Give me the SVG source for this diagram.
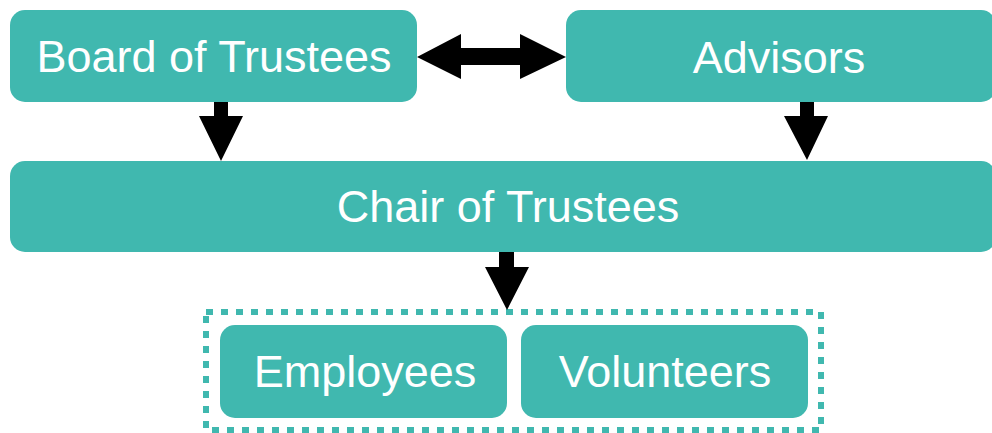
<svg xmlns="http://www.w3.org/2000/svg" width="992" height="433" viewBox="0 0 992 433">
  <style>
    .box { fill: #40b8af; }
    .lbl { font-family: "Liberation Sans", Arial, sans-serif; font-size: 45px; fill: #ffffff; text-anchor: middle; }
    .arr { fill: #000000; }
    .group { fill: none; stroke: #40b8af; stroke-width: 6; stroke-dasharray: 7 8; }
  </style>
  <rect width="992" height="433" fill="#ffffff"/>
  <g id="board">
    <rect class="box" x="10" y="10" width="407" height="92" rx="15"/>
    <text class="lbl" x="214" y="72">Board of Trustees</text>
  </g>
  <g id="advisors">
    <rect class="box" x="566" y="10" width="430" height="92" rx="15"/>
    <text class="lbl" x="779" y="73">Advisors</text>
  </g>
  <g id="chair">
    <rect class="box" x="10" y="161" width="986" height="91" rx="15"/>
    <text class="lbl" x="508" y="222">Chair of Trustees</text>
  </g>
  <g id="staff-group">
    <rect class="group" x="206" y="312" width="615" height="118"/>
  </g>
  <g id="employees">
    <rect class="box" x="220" y="325" width="287" height="93" rx="15"/>
    <text class="lbl" x="365" y="387">Employees</text>
  </g>
  <g id="volunteers">
    <rect class="box" x="521" y="325" width="287" height="93" rx="15"/>
    <text class="lbl" x="665" y="387">Volunteers</text>
  </g>
  <g id="connectors">
    <polygon class="arr" points="417,57 461,34 461,48 520,48 520,34 566,57 520,79 520,65 461,65 461,79"/>
    <polygon class="arr" points="214,102 228,102 228,116 243,116 221,161 199,116 214,116"/>
    <polygon class="arr" points="800,102 814,102 814,116 828,116 807,160 784,116 800,116"/>
    <polygon class="arr" points="499,252 514,252 514,267 529,267 507,310 485,267 499,267"/>
  </g>
</svg>
